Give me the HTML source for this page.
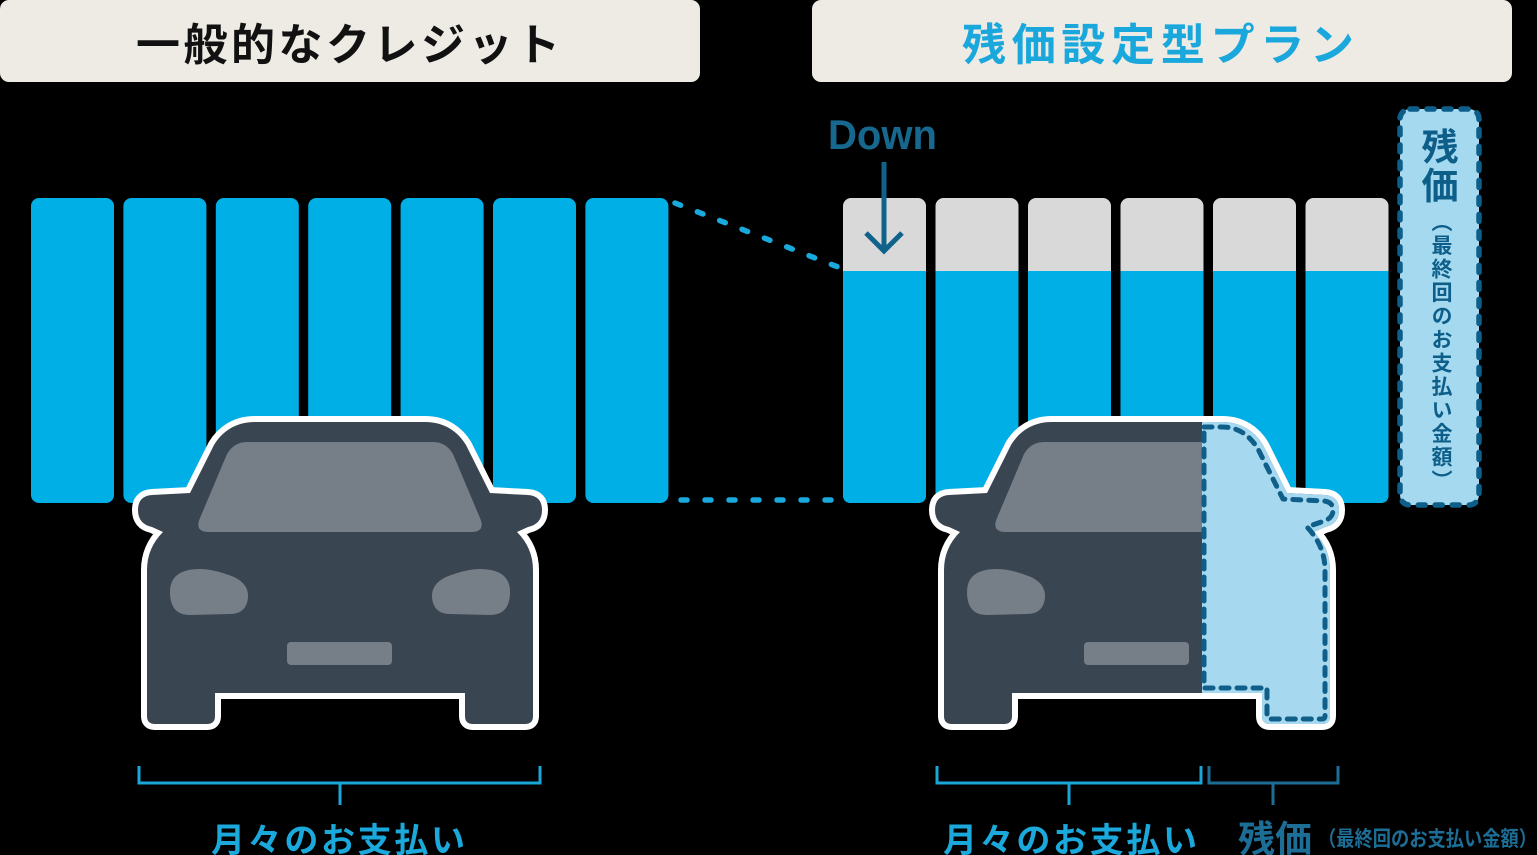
<!DOCTYPE html>
<html>
<head>
<meta charset="utf-8">
<style>
  html,body{margin:0;padding:0;background:#000;}
  body{width:1537px;height:855px;overflow:hidden;position:relative;}
  svg{position:absolute;left:0;top:0;}
  .vt{position:absolute;left:1429px;top:211px;width:22px;writing-mode:vertical-rl;
      font-family:"Liberation Sans","Noto Sans CJK JP",sans-serif;font-weight:bold;
      font-size:21px;line-height:22px;letter-spacing:2.5px;color:#0d5f8a;white-space:nowrap;}
</style>
</head>
<body>
<svg width="1537" height="855" viewBox="0 0 1537 855" xmlns="http://www.w3.org/2000/svg">
  <defs>
    <path id="car" d="M 255 422 L 425 422 C 445 422 458 432 466 445 L 490 493 L 528 495 Q 542 496 542 510 Q 542 524 528 527 L 517 532 Q 533 548 533 570 L 533 716 Q 533 724 525 724 L 473 724 Q 465 724 465 716 L 465 693 L 215 693 L 215 716 Q 215 724 207 724 L 155 724 Q 147 724 147 716 L 147 570 Q 147 548 163 532 L 152 527 Q 138 524 138 510 Q 138 496 152 495 L 190 493 L 214 445 C 222 432 235 422 255 422 Z"/>
    <path id="wind" d="M 247 442 L 433 442 Q 446 442 453 454 L 480 518 Q 486 532 471 532 L 209 532 Q 194 532 200 518 L 227 454 Q 234 442 247 442 Z"/>
    <path id="hlL" d="M 200 569 Q 214 569 234 577 Q 249 584 248 598 Q 246 614 230 614 L 190 615 Q 170 615 170 592 Q 170 569 200 569 Z"/>
    <path id="hlR" d="M 480 569 Q 466 569 446 577 Q 431 584 432 598 Q 434 614 450 614 L 490 615 Q 510 615 510 592 Q 510 569 480 569 Z"/>
    <clipPath id="rhalf"><rect x="405" y="380" width="200" height="400"/></clipPath>
  </defs>

  <rect width="1537" height="855" fill="#000"/>

  <!-- headers -->
  <rect x="0" y="0" width="700" height="82" rx="9" fill="#eeebe5"/>
  <rect x="812" y="0" width="700" height="82" rx="9" fill="#eeebe5"/>
  <text x="348" y="60" text-anchor="middle" textLength="424" lengthAdjust="spacing"
        font-family="Liberation Sans, Noto Sans CJK JP, sans-serif" font-weight="bold" font-size="44" fill="#111">一般的なクレジット</text>
  <text x="1158" y="60" text-anchor="middle" textLength="392" lengthAdjust="spacing"
        font-family="Liberation Sans, Noto Sans CJK JP, sans-serif" font-weight="bold" font-size="44" fill="#1aa8dc">残価設定型プラン</text>

  <!-- left bars -->
  <g fill="#00afe6">
    <rect x="31" y="198" width="83" height="305" rx="8"/>
    <rect x="123.4" y="198" width="83" height="305" rx="8"/>
    <rect x="215.8" y="198" width="83" height="305" rx="8"/>
    <rect x="308.2" y="198" width="83" height="305" rx="8"/>
    <rect x="400.6" y="198" width="83" height="305" rx="8"/>
    <rect x="493" y="198" width="83" height="305" rx="8"/>
    <rect x="585.4" y="198" width="83" height="305" rx="8"/>
  </g>

  <!-- right bars -->
  <g>
    <g fill="#d9d9d9">
      <rect x="843" y="198" width="83" height="305" rx="8"/>
      <rect x="935.5" y="198" width="83" height="305" rx="8"/>
      <rect x="1028" y="198" width="83" height="305" rx="8"/>
      <rect x="1120.5" y="198" width="83" height="305" rx="8"/>
      <rect x="1213" y="198" width="83" height="305" rx="8"/>
      <rect x="1305.5" y="198" width="83" height="305" rx="8"/>
    </g>
    <g fill="#00afe6">
      <path d="M 843 271 h 83 v 224 q 0 8 -8 8 h -67 q -8 0 -8 -8 z"/>
      <path d="M 935.5 271 h 83 v 224 q 0 8 -8 8 h -67 q -8 0 -8 -8 z"/>
      <path d="M 1028 271 h 83 v 224 q 0 8 -8 8 h -67 q -8 0 -8 -8 z"/>
      <path d="M 1120.5 271 h 83 v 224 q 0 8 -8 8 h -67 q -8 0 -8 -8 z"/>
      <path d="M 1213 271 h 83 v 224 q 0 8 -8 8 h -67 q -8 0 -8 -8 z"/>
      <path d="M 1305.5 271 h 83 v 224 q 0 8 -8 8 h -67 q -8 0 -8 -8 z"/>
    </g>
  </g>

  <!-- dashed connectors -->
  <g stroke="#1aa9dc" stroke-width="5.5" stroke-linecap="round" stroke-dasharray="6 18" fill="none">
    <line x1="675" y1="203" x2="838" y2="267"/>
    <line x1="681" y1="500" x2="833" y2="500"/>
  </g>

  <!-- Down arrow -->
  <text x="828" y="149" textLength="109" lengthAdjust="spacingAndGlyphs"
        font-family="Liberation Sans, sans-serif" font-weight="bold" font-size="42" fill="#17688f">Down</text>
  <g stroke="#0f628a" stroke-width="5" fill="none">
    <line x1="884" y1="162" x2="884" y2="250"/>
    <polyline points="866,233 884,251 902,233" stroke-linejoin="miter"/>
  </g>

  <!-- residual box -->
  <rect x="1400" y="109" width="79" height="396" rx="10" fill="#a4d9ef" stroke="#0d5f8a" stroke-width="5.5" stroke-dasharray="7 10" stroke-linecap="round"/>
  <text x="1440" y="160" text-anchor="middle" font-family="Liberation Sans, Noto Sans CJK JP, sans-serif" font-weight="bold" font-size="37" fill="#0d5f8a">残</text>
  <text x="1440" y="199" text-anchor="middle" font-family="Liberation Sans, Noto Sans CJK JP, sans-serif" font-weight="bold" font-size="37" fill="#0d5f8a">価</text>

  <!-- left car -->
  <g>
    <use href="#car" fill="#3a4552" stroke="#fff" stroke-width="12" stroke-linejoin="round" paint-order="stroke"/>
    <use href="#wind" fill="#767e88"/>
    <use href="#hlL" fill="#767e88"/>
    <use href="#hlR" fill="#767e88"/>
    <rect x="287" y="642" width="105" height="23" rx="4" fill="#767e88"/>
  </g>

  <!-- right car -->
  <g transform="translate(797,0)">
    <use href="#car" fill="#3a4552" stroke="#fff" stroke-width="12" stroke-linejoin="round" paint-order="stroke"/>
    <use href="#wind" fill="#767e88"/>
    <use href="#hlL" fill="#767e88"/>
    <rect x="287" y="642" width="105" height="23" rx="4" fill="#767e88"/>
    <use href="#car" fill="#a6d9ef" clip-path="url(#rhalf)"/>
    <path d="M 407 427 L 425 427 C 442 427 453 436 461 449 L 486 499 L 527 501 Q 536 502 536 510 Q 536 518 527 521 L 510 527 Q 528 546 528 570 L 528 716 Q 528 719 525 719 L 473 719 Q 470 719 470 716 L 470 688 L 407 688 Z"
          fill="none" stroke="#0f5f8a" stroke-width="5" stroke-dasharray="8 8" stroke-linecap="round" stroke-linejoin="round"/>
  </g>

  <!-- brackets -->
  <g fill="none" stroke-width="3">
    <path d="M 139 766 V 783 H 540 V 766 M 340 783 V 805" stroke="#1ba6da"/>
    <path d="M 937 766 V 783 H 1201 V 766 M 1069 783 V 805" stroke="#1ba6da"/>
    <path d="M 1209 766 V 783 H 1338 V 766 M 1273 783 V 805" stroke="#1d6e96"/>
  </g>

  <!-- bottom labels -->
  <text x="338" y="852" text-anchor="middle" textLength="254" lengthAdjust="spacing"
        font-family="Liberation Sans, Noto Sans CJK JP, sans-serif" font-weight="bold" font-size="34" fill="#1ba9dc">月々のお支払い</text>
  <text x="1070" y="852" text-anchor="middle" textLength="254" lengthAdjust="spacing"
        font-family="Liberation Sans, Noto Sans CJK JP, sans-serif" font-weight="bold" font-size="34" fill="#1ba9dc">月々のお支払い</text>
  <text x="1275" y="852" text-anchor="middle" textLength="74" lengthAdjust="spacing"
        font-family="Liberation Sans, Noto Sans CJK JP, sans-serif" font-weight="bold" font-size="37" fill="#1d6e96">残価</text>
  <text x="1318" y="846" textLength="219" lengthAdjust="spacingAndGlyphs"
        font-family="Liberation Sans, Noto Sans CJK JP, sans-serif" font-weight="bold" font-size="21" fill="#1d6e96">（最終回のお支払い金額）</text>
</svg>
<div class="vt">（最終回のお支払い金額）</div>
</body>
</html>
